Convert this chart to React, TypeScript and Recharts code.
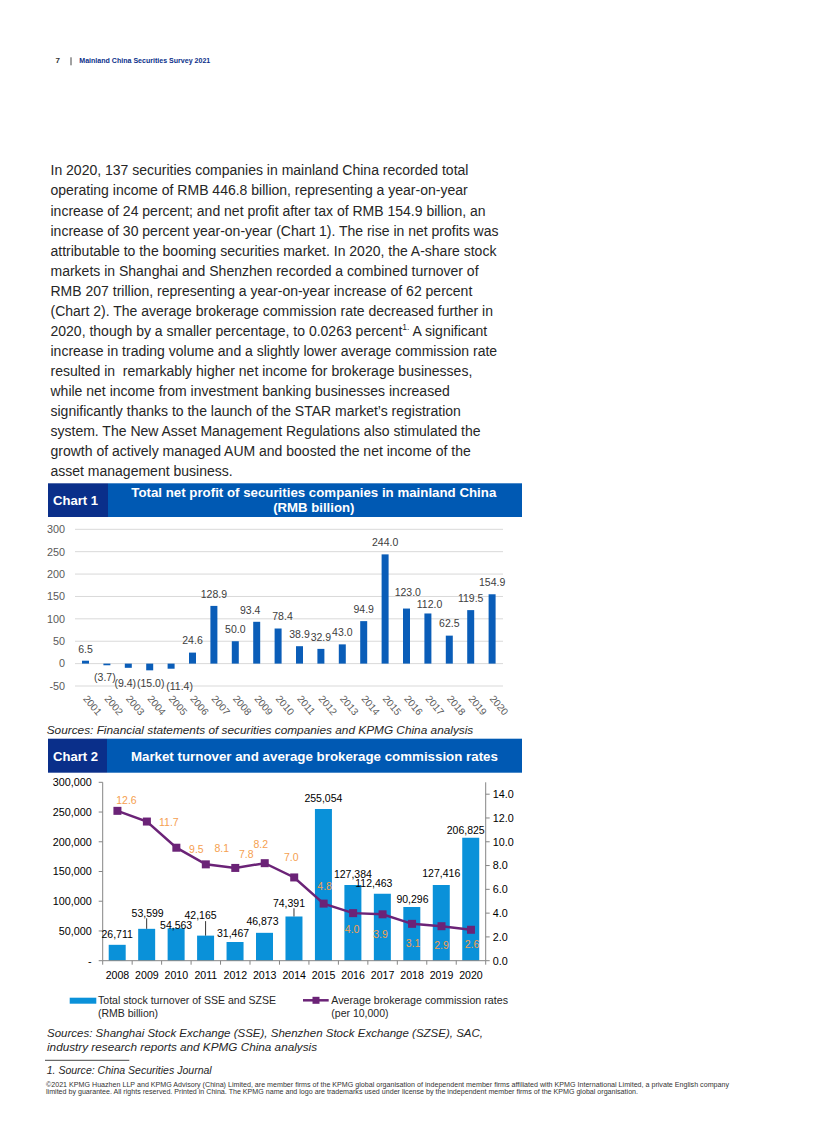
import React from 'react';
import { BarChart, Bar, XAxis, YAxis, CartesianGrid, LabelList, ComposedChart, Line } from 'recharts';

// ---------------- data ----------------
const profitYears = ['2001', '2002', '2003', '2004', '2005', '2006', '2007', '2008', '2009', '2010', '2011', '2012', '2013', '2014', '2015', '2016', '2017', '2018', '2019', '2020'];
const netProfit = [6.5, -3.7, -9.4, -15.0, -11.4, 24.6, 128.9, 50.0, 93.4, 78.4, 38.9, 32.9, 43.0, 94.9, 244.0, 123.0, 112.0, 62.5, 119.5, 154.9];
const profitTicks = [-50, 0, 50, 100, 150, 200, 250, 300];

const marketYears = ['2008', '2009', '2010', '2011', '2012', '2013', '2014', '2015', '2016', '2017', '2018', '2019', '2020'];
const stockTurnover = [26711, 53599, 54563, 42165, 31467, 46873, 74391, 255054, 127384, 112463, 90296, 127416, 206825];
const commissionRate = [12.6, 11.7, 9.5, 8.1, 7.8, 8.2, 7.0, 4.8, 4.0, 3.9, 3.1, 2.9, 2.6];
const turnoverTicks = [0, 50000, 100000, 150000, 200000, 250000, 300000];
const rateTicks = [0, 2, 4, 6, 8, 10, 12, 14];

const bodyLines = [
  'In 2020, 137 securities companies in mainland China recorded total',
  'operating income of RMB 446.8 billion, representing a year-on-year',
  'increase of 24 percent; and net profit after tax of RMB 154.9 billion, an',
  'increase of 30 percent year-on-year (Chart 1). The rise in net profits was',
  'attributable to the booming securities market. In 2020, the A-share stock',
  'markets in Shanghai and Shenzhen recorded a combined turnover of',
  'RMB 207 trillion, representing a year-on-year increase of 62 percent',
  '(Chart 2). The average brokerage commission rate decreased further in',
  '2020, though by a smaller percentage, to 0.0263 percent',
  'increase in trading volume and a slightly lower average commission rate',
  'resulted in  remarkably higher net income for brokerage businesses,',
  'while net income from investment banking businesses increased',
  'significantly thanks to the launch of the STAR market\u2019s registration',
  'system. The New Asset Management Regulations also stimulated the',
  'growth of actively managed AUM and boosted the net income of the',
  'asset management business.',
];

const chart1Title = ['Total net profit of securities companies in mainland China', '(RMB billion)'];
const chart2Title = 'Market turnover and average brokerage commission rates';
const chart1Source = 'Sources: Financial statements of securities companies and KPMG China analysis';
const chart2Source = [
  'Sources: Shanghai Stock Exchange (SSE), Shenzhen Stock Exchange (SZSE), SAC,',
  'industry research reports and KPMG China analysis',
];
const legendBar = ['Total stock turnover of SSE and SZSE', '(RMB billion)'];
const legendLine = ['Average brokerage commission rates', '(per 10,000)'];
const footnote = '1. Source: China Securities Journal';
const copyright = [
  '\u00A92021 KPMG Huazhen LLP and KPMG Advisory (China) Limited, are member firms of the KPMG global organisation of independent member firms affiliated with KPMG International Limited, a private English company',
  'limited by guarantee. All rights reserved. Printed in China. The KPMG name and logo are trademarks used under license by the independent member firms of the KPMG global organisation.',
];

const profitData = profitYears.map((year, i) => ({ year, profit: netProfit[i] }));
const marketData = marketYears.map((year, i) => ({ year, turnover: stockTurnover[i], rate: commissionRate[i] }));

// ---------------- styles ----------------
const FONT = '"Liberation Sans", Arial, Helvetica, sans-serif';
const NAVY = '#0A2F8A';
const KBLUE = '#0059B3';
const BAR1 = '#0A5DB8';
const BAR2 = '#0A91D9';
const PURPLE = '#6B2377';
const ORANGE = '#F5A04F';
const AXIS = '#858585';

// label nudges (style only)
const profitNudge: Record<string, [number, number]> = {
  '2002': [-2, -1], '2003': [-3, 3], '2004': [1, 0], '2005': [8.5, 5],
  '2009': [-6.5, 0], '2010': [4.4, 0], '2016': [1.3, -4], '2017': [1.6, 3],
};
const turnoverNudge: Record<string, [number, number, boolean]> = {
  '2009': [1, -5, true], '2010': [0, 8, false], '2011': [-5, -9, true], '2012': [-2, 2.3, false],
  '2013': [-2, -1, false], '2014': [-5, -2.7, true], '2017': [-8.5, 0.5, false], '2018': [0.7, 3, false],
  '2019': [0, -0.6, false], '2020': [-5, 3.4, false],
};
const rateLabelOffset: Record<string, [number, number]> = {
  '2008': [9, -11], '2009': [22, 1], '2010': [20, 1], '2011': [16, -16], '2012': [11, -14],
  '2013': [-4, -19], '2014': [-3, -20], '2015': [1, -17], '2016': [-1, 16], '2017': [-2, 20],
  '2018': [1, 19], '2019': [0, 19], '2020': [1, 14],
};

function geom(p: any) {
  const vb = p.viewBox || {};
  const x = typeof p.x === 'number' ? p.x : vb.x;
  const y = typeof p.y === 'number' ? p.y : vb.y;
  const width = typeof p.width === 'number' ? p.width : vb.width || 0;
  const height = typeof p.height === 'number' ? p.height : vb.height || 0;
  return { x, y, width, height };
}

const ProfitLabel = (p: any) => {
  const { x, y, width, height } = geom(p);
  const value = Number(p.value);
  let idx = typeof p.index === 'number' ? p.index : netProfit.indexOf(value);
  const cat = profitYears[idx];
  const [ndx, ndy] = profitNudge[cat] || [0, 0];
  const top = Math.min(y, y + height);
  const bottom = Math.max(y, y + height);
  const cx = x + width / 2 + ndx;
  const cy = value >= 0 ? top - 12 + ndy : bottom + 12.5 + ndy;
  const txt = value < 0 ? `(${Math.abs(value).toFixed(1)})` : value.toFixed(1);
  return (
    <text x={cx} y={cy} dy={3.8} textAnchor="middle" fontSize={10.5} fill="#404040" fontFamily={FONT}>
      {txt}
    </text>
  );
};

const ProfitTick = (p: any) => {
  const { x, y, payload } = p;
  return (
    <text transform={`translate(${x - 3},${y + 13}) rotate(50)`} fontSize={10} fill="#595959" fontFamily={FONT}>
      {payload.value}
    </text>
  );
};

const TurnoverLabel = (p: any) => {
  const { x, y, width, height } = geom(p);
  const value = Number(p.value);
  let idx = typeof p.index === 'number' ? p.index : stockTurnover.indexOf(value);
  const cat = marketYears[idx];
  const [ndx, ndy, leader] = turnoverNudge[cat] || [0, 0, false];
  const top = Math.min(y, y + height);
  const bx = x + width / 2;
  const cy = top - 11 + ndy;
  return (
    <g>
      {leader && <line x1={bx} x2={bx} y1={cy + 5.5} y2={top} stroke="#000" strokeWidth={0.8} />}
      <text x={bx + ndx} y={cy} dy={3.8} textAnchor="middle" fontSize={10.5} fill="#000" fontFamily={FONT}>
        {value.toLocaleString('en-US')}
      </text>
    </g>
  );
};

const C2_PLOT_W = 383;
const C2_BAND = C2_PLOT_W / marketYears.length;

const MarketTick = (p: any) => {
  const { x, y, payload, index } = p;
  const h = C2_BAND / 2;
  return (
    <g>
      <line x1={x - h} x2={x - h} y1={y} y2={y + 4} stroke={AXIS} strokeWidth={1} />
      {index === marketYears.length - 1 && <line x1={x + h} x2={x + h} y1={y} y2={y + 4} stroke={AXIS} strokeWidth={1} />}
      <text x={x} y={y + 14.3} dy={3.8} textAnchor="middle" fontSize={10.6} fill="#000" fontFamily={FONT}>
        {payload.value}
      </text>
    </g>
  );
};

const RateDot = (p: any) => {
  const { cx, cy, index } = p;
  const cat = marketYears[index];
  const [ox, oy] = rateLabelOffset[cat] || [0, -14];
  return (
    <g key={`dot-${index}`}>
      <rect x={cx - 4} y={cy - 4} width={8} height={8} fill={PURPLE} />
      <text x={cx + ox} y={cy + oy} dy={3.8} textAnchor="middle" fontSize={10.5} fill={ORANGE} fontFamily={FONT}>
        {commissionRate[index].toFixed(1)}
      </text>
    </g>
  );
};

// ---------------- page text (svg) ----------------
const T = (props: { x: number; y: number; size: number; w?: number; weight?: string | number; italic?: boolean; fill?: string; anchor?: string; children: React.ReactNode }) => {
  const { x, y, size, w, weight, italic, fill, anchor, children } = props;
  const extra: any = {};
  if (w) {
    extra.textLength = w;
    extra.lengthAdjust = 'spacingAndGlyphs';
  }
  return (
    <text x={x} y={y} fontSize={size} fontWeight={weight || 'normal'} fontStyle={italic ? 'italic' : 'normal'} fill={fill || '#262626'} textAnchor={anchor || 'start'} fontFamily={FONT} {...extra}>
      {children}
    </text>
  );
};

const PageText = () => (
  <svg width={816} height={1145} style={{ position: 'absolute', left: 0, top: 0 }}>
    {/* page header */}
    <T x={55.5} y={63.2} size={8} weight="bold" fill="#333">7</T>
    <line x1={71} x2={71} y1={57.3} y2={65.3} stroke="#444" strokeWidth={1} />
    <T x={79.3} y={63.2} size={7.2} weight="bold" fill={NAVY} w={131}>Mainland China Securities Survey 2021</T>

    {/* body */}
    {bodyLines.map((line, i) => (
      <text key={i} x={50.5} y={170.7 + i * 20.07 + 4.7} fontSize={14} fill="#262626" fontFamily={FONT} style={{ whiteSpace: 'pre' }}>
        {line}
        {i === 8 && (
          <>
            <tspan fontSize={8.5} dy={-5.5}>1.</tspan>
            <tspan dy={5.5}> A significant</tspan>
          </>
        )}
      </text>
    ))}

    {/* chart 1 header */}
    <rect x={48} y={483.3} width={60} height={33.7} fill={NAVY} />
    <rect x={108} y={483.3} width={414} height={33.7} fill={KBLUE} />
    <T x={53} y={505.3} size={13} weight="bold" fill="#fff" w={45}>Chart 1</T>
    <T x={313.8} y={497.3} size={13.2} weight="bold" fill="#fff" anchor="middle" w={365}>{chart1Title[0]}</T>
    <T x={313.8} y={512.3} size={13.2} weight="bold" fill="#fff" anchor="middle">{chart1Title[1]}</T>

    {/* chart 1 source */}
    <T x={46.7} y={733.5} size={11.8} italic fill="#262626" w={426.6}>{chart1Source}</T>

    {/* chart 2 header */}
    <rect x={48} y={738.7} width={59} height={34} fill={NAVY} />
    <rect x={107} y={738.7} width={415} height={34} fill={KBLUE} />
    <T x={53} y={761.3} size={13} weight="bold" fill="#fff" w={45}>Chart 2</T>
    <T x={314.4} y={761.3} size={13.2} weight="bold" fill="#fff" anchor="middle" w={367}>{chart2Title}</T>

    {/* chart 2 legend */}
    <rect x={69.7} y={997.7} width={26.6} height={6} fill={BAR2} />
    <T x={98} y={1004} size={10.5} fill="#262626" w={178}>{legendBar[0]}</T>
    <T x={98} y={1017} size={10.5} fill="#262626">{legendBar[1]}</T>
    <line x1={303} x2={328.7} y1={1000.3} y2={1000.3} stroke={PURPLE} strokeWidth={2.5} />
    <rect x={312.5} y={996.8} width={7} height={7} fill={PURPLE} />
    <T x={331.3} y={1004} size={10.5} fill="#262626" w={176.7}>{legendLine[0]}</T>
    <T x={331.3} y={1017} size={10.5} fill="#262626">{legendLine[1]}</T>

    {/* chart 2 source */}
    <T x={47} y={1036.5} size={11.8} italic fill="#262626" w={436}>{chart2Source[0]}</T>
    <T x={47} y={1050.9} size={11.8} italic fill="#262626" w={270}>{chart2Source[1]}</T>

    {/* footnote */}
    <line x1={45} x2={129.3} y1={1060.3} y2={1060.3} stroke="#6b6b6b" strokeWidth={1.3} />
    <T x={46.7} y={1074} size={10.5} italic fill="#262626" w={165}>{footnote}</T>
    <T x={46} y={1086.5} size={6.3} fill="#333" w={683}>{copyright[0]}</T>
    <T x={46} y={1093.5} size={6.3} fill="#333" w={592}>{copyright[1]}</T>
  </svg>
);

// ---------------- charts ----------------
const Chart1 = () => (
  <div style={{ position: 'absolute', left: 40, top: 515 }}>
    <BarChart width={480} height={215} data={profitData} margin={{ top: 14.3, right: 17, left: 0, bottom: 0 }} style={{ fontFamily: FONT }}>
      <CartesianGrid horizontal vertical={false} stroke="#d9d9d9" strokeWidth={1} />
      <XAxis dataKey="year" axisLine={false} tickLine={false} tickSize={0} tickMargin={0} height={44} interval={0} tick={<ProfitTick />} />
      <YAxis domain={[-50, 300]} ticks={profitTicks} width={35} axisLine={false} tickLine={false} tickSize={6} tickMargin={4} interval={0} tick={{ fontSize: 10.8, fill: '#595959' }} />
      <Bar dataKey="profit" fill={BAR1} barSize={7} isAnimationActive={false}>
        <LabelList dataKey="profit" content={<ProfitLabel />} />
      </Bar>
    </BarChart>
  </div>
);

const Chart2 = () => (
  <div style={{ position: 'absolute', left: 40, top: 770 }}>
    <ComposedChart width={490} height={220} data={marketData} margin={{ top: 12.3, right: 0, left: 0, bottom: 0 }} style={{ fontFamily: FONT }}>
      <XAxis dataKey="year" axisLine={{ stroke: AXIS }} tickLine={false} tickSize={0} tickMargin={0} height={29.3} interval={0} tick={<MarketTick />} />
      <YAxis
        yAxisId="left"
        domain={[0, 300000]}
        ticks={turnoverTicks}
        width={62.7}
        axisLine={{ stroke: AXIS }}
        tickLine={{ stroke: AXIS }}
        tickSize={4}
        tickMargin={7}
        interval={0}
        tickFormatter={(v: number) => (v === 0 ? '-' : v.toLocaleString('en-US'))}
        tick={{ fontSize: 10.8, fill: '#000' }}
      />
      <YAxis
        yAxisId="right"
        orientation="right"
        domain={[0, 15]}
        ticks={rateTicks}
        width={44.3}
        axisLine={{ stroke: AXIS }}
        tickLine={{ stroke: AXIS }}
        tickSize={4}
        tickMargin={3}
        interval={0}
        tickFormatter={(v: number) => v.toFixed(1)}
        tick={{ fontSize: 10.8, fill: '#000' }}
      />
      <Bar yAxisId="left" dataKey="turnover" fill={BAR2} barSize={17} isAnimationActive={false}>
        <LabelList dataKey="turnover" content={<TurnoverLabel />} />
      </Bar>
      <Line yAxisId="right" dataKey="rate" stroke={PURPLE} strokeWidth={2.5} dot={RateDot} activeDot={false} isAnimationActive={false} />
    </ComposedChart>
  </div>
);

export default function App() {
  return (
    <div style={{ position: 'absolute', left: 0, top: 0, width: 816, height: 1145, background: '#fff', fontFamily: FONT }}>
      <PageText />
      <Chart1 />
      <Chart2 />
    </div>
  );
}
